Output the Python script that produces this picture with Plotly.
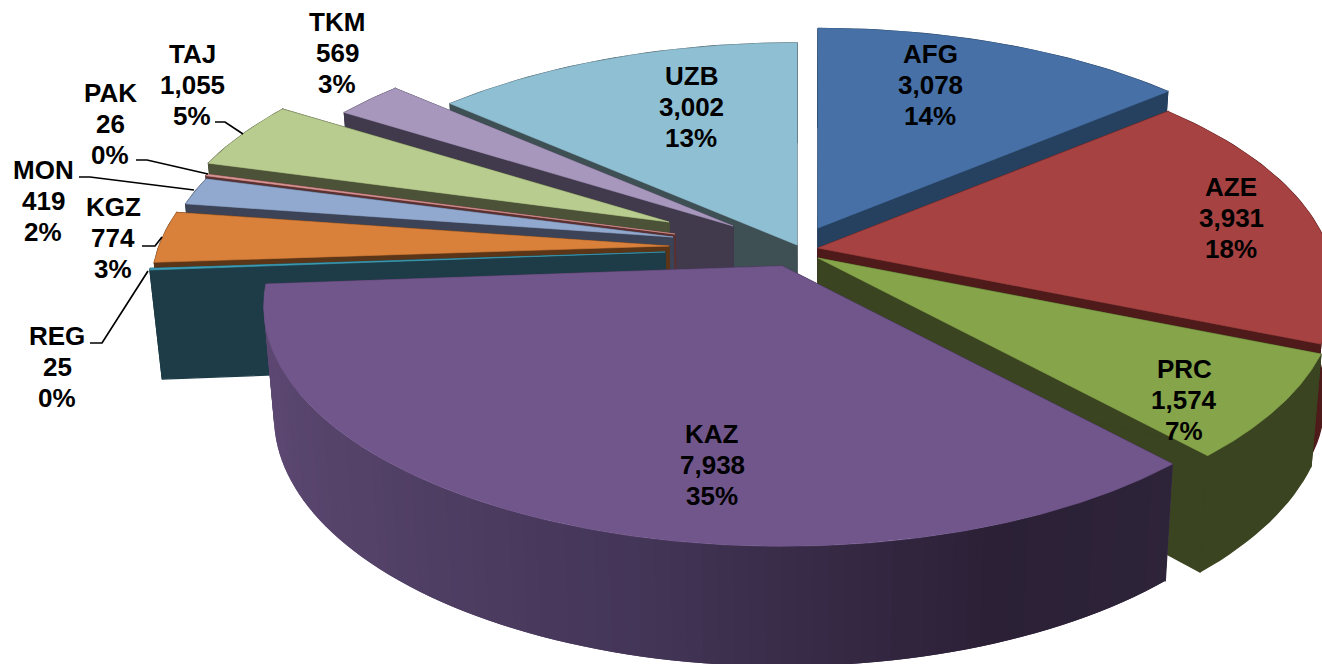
import math
import plotly.graph_objects as go

# ---- chart data ----
names = ["AFG", "AZE", "PRC", "KAZ", "REG", "KGZ", "MON", "PAK", "TAJ", "TKM", "UZB"]
values = [3078, 3931, 1574, 7938, 25, 774, 419, 26, 1055, 569, 3002]

# ---- styling ----
top_colors = ["#4670A6", "#A64342", "#86A44A", "#71568C", "#3D9DB5", "#D9803A",
              "#92A9CF", "#D99694", "#B9CC8F", "#A797BD", "#8FBFD3"]
side_colors = ["#26405F", "#4F1A1A", "#3A4420", "#3C2F4C", "#1D3C47", "#5A3517",
               "#3C4357", "#5A3030", "#4B5237", "#403A4C", "#3F5055"]

# projection of the tilted disc on to the page
RX, RY, PERSP = 510.0, 233.0, 0.167
VANISH_X, SHRINK = 800.0, 0.981
# exploded position of each slice's tip, and a small rim scale
tips = {"AFG": (818, 228, 1.0), "AZE": (818, 248, 1.0), "PRC": (818, 258, 1.0),
        "KAZ": (782, 266, 1.002), "REG": (665, 252, 1.0), "KGZ": (669, 246, 1.0),
        "MON": (673, 237, 0.99), "PAK": (675, 234, 0.995), "TAJ": (669, 222, 0.98),
        "TKM": (733, 226, 0.986), "UZB": (797, 245, 1.013)}
draw_order = ["UZB", "TKM", "TAJ", "PAK", "MON", "KGZ", "REG", "AFG", "AZE", "PRC", "KAZ"]
label_mid = {"AFG": (930, 85), "AZE": (1231, 218), "PRC": (1184, 400), "KAZ": (712, 465),
             "REG": (57, 367), "KGZ": (113, 238), "MON": (43, 201), "PAK": (110, 124),
             "TAJ": (192, 85), "TKM": (337, 53), "UZB": (691, 107)}
leaders = {"TAJ": [(215, 122), (225, 122), (243, 134)],
           "PAK": [(136, 160), (147, 160), (208, 174)],
           "MON": [(79, 177), (90, 177), (194, 190)],
           "KGZ": [(142, 246), (155, 246), (162, 237)],
           "REG": [(90, 343), (102, 343), (148, 271)]}
KAZ_WALL = [(0.0, (96, 74, 118)), (0.3, (84, 66, 104)), (0.55, (68, 54, 88)),
            (0.82, (43, 32, 54)), (1.0, (46, 36, 58))]
FONT = "Liberation Sans, Arial, sans-serif"

total = sum(values)
spans = {}
start = 0.0
for n, v in zip(names, values):
    spans[n] = (start, start + v / total * 360.0)
    start = spans[n][1]


def rim(name, deg):
    ax, ay, r = tips[name]
    t = math.radians(deg)
    u, v = math.sin(t), -math.cos(t)
    d = 1 - PERSP * v
    return ax + RX * r * u / d, ay + RY * r * v / d


def drop(p):
    x, y = p
    return VANISH_X + SHRINK * (x - VANISH_X), y + 109 + 0.04 * (y - 270)


def arc(name, a, b, step=1.0):
    n = max(2, int(abs(b - a) / step) + 1)
    return [rim(name, a + (b - a) * i / (n - 1)) for i in range(n)]


def kaz_color(f):
    for (f0, c0), (f1, c1) in zip(KAZ_WALL, KAZ_WALL[1:]):
        if f <= f1:
            k = (f - f0) / (f1 - f0)
            c = [round(c0[i] + (c1[i] - c0[i]) * k) for i in range(3)]
            return f"rgb({c[0]},{c[1]},{c[2]})"
    return "rgb(46,36,58)"


fig = go.Figure()


def poly(pts, color, name, lw=0.6):
    xs = [p[0] for p in pts] + [pts[0][0]]
    ys = [p[1] for p in pts] + [pts[0][1]]
    fig.add_trace(go.Scatter(x=xs, y=ys, mode="lines", fill="toself", fillcolor=color,
                             line=dict(color=color, width=lw), name=name,
                             hoverinfo="skip", showlegend=False))


for n in draw_order:
    i = names.index(n)
    a, b = spans[n]
    tip = tips[n][:2]
    side = side_colors[i]
    # cut faces
    for ang in (b, a):
        p = rim(n, ang)
        poly([tip, p, drop(p), drop(tip)], side, n, 1.2)
    # outer wall: one piece, or overlapping strips where it is shaded
    pts = arc(n, a, b, 1.5)
    if n == "KAZ":
        # painted from the bright left end to the dark right end, each strip reaching under the next
        m = len(pts)
        for k in range(m - 1, 0, -1):
            strip = pts[max(0, k - 2):k + 1]
            poly(strip + [drop(p) for p in reversed(strip)], kaz_color(1 - k / (m - 1)), n, 0)
    else:
        poly(pts + [drop(p) for p in reversed(pts)], side, n, 1.2)
    # top face
    poly([tip] + arc(n, a, b, 0.5), top_colors[i], n)

for n, pts in leaders.items():
    fig.add_trace(go.Scatter(x=[p[0] for p in pts], y=[p[1] for p in pts], mode="lines",
                             line=dict(color="black", width=1.7), hoverinfo="skip",
                             showlegend=False))

PITCH = 31
for n, v in zip(names, values):
    cx, cy = label_mid[n]
    lines = [n, f"{v:,}", f"{round(v / total * 100)}%"]
    for k, txt in enumerate(lines):
        fig.add_annotation(x=cx, y=cy + (k - 1) * PITCH, text=f"<b>{txt}</b>", showarrow=False,
                           xanchor="center", yanchor="middle",
                           font=dict(family=FONT, size=26, color="black"))

fig.update_layout(width=1322, height=664, margin=dict(l=0, r=0, t=0, b=0),
                  paper_bgcolor="white", plot_bgcolor="white", showlegend=False,
                  xaxis=dict(range=[0, 1322], visible=False, fixedrange=True),
                  yaxis=dict(range=[664, 0], visible=False, fixedrange=True))
fig.write_html("out.html", config={"displayModeBar": False},
               post_script="document.body.style.margin='0';document.documentElement.style.overflow='hidden';")
